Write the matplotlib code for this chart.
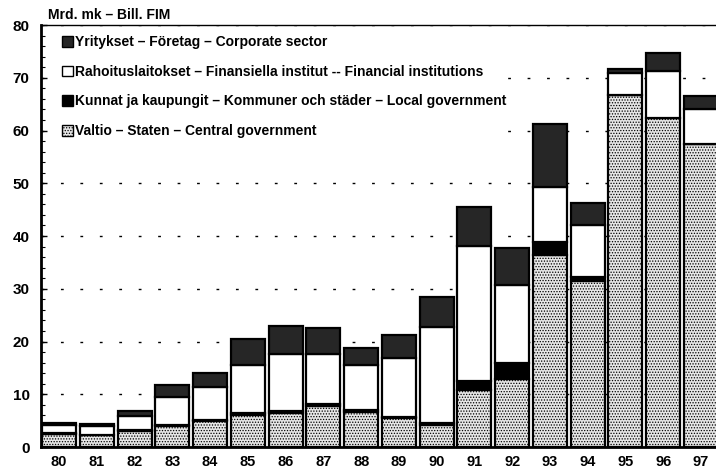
import numpy as np
import matplotlib
matplotlib.use('Agg')
import matplotlib.pyplot as plt
from matplotlib.patches import Patch

plt.rcParams['font.family'] = ['Liberation Sans', 'DejaVu Sans']
plt.rcParams['hatch.linewidth'] = 0.6

years = ['80', '81', '82', '83', '84', '85', '86', '87', '88',
         '89', '90', '91', '92', '93', '94', '95', '96', '97']
# Mrd. mk
valtio = [2.5, 2.2, 3.0, 4.0, 5.0, 6.0, 6.5, 7.8, 6.7,
          5.5, 4.2, 10.9, 12.8, 36.4, 31.5, 66.7, 62.3, 57.4]
kunnat = [0.1, 0.1, 0.3, 0.2, 0.2, 0.4, 0.4, 0.3, 0.3,
          0.2, 0.3, 1.6, 3.1, 2.5, 0.8, 0.0, 0.1, 0.1]
rahoitus = [1.5, 1.6, 2.5, 5.3, 6.1, 9.1, 10.7, 9.6, 8.5,
            11.2, 18.3, 25.6, 14.8, 10.3, 9.7, 4.2, 8.8, 6.6]
yritykset = [0.5, 0.4, 1.1, 2.2, 2.7, 5.0, 5.3, 4.9, 3.3,
             4.4, 5.7, 7.4, 7.0, 12.0, 4.3, 0.8, 3.4, 2.4]

labels = ['Yritykset – Företag – Corporate sector',
          'Rahoituslaitokset – Finansiella institut -- Financial institutions',
          'Kunnat ja kaupungit – Kommuner och städer – Local government',
          'Valtio – Staten – Central government']

fig = plt.figure(figsize=(7.16, 4.70), dpi=100)
ax = fig.add_axes([0.0568, 0.0489, 0.9432, 0.8979])

x = np.arange(len(years))
w = 0.9
bottom = np.zeros(len(years))
series = [
    (valtio, '#e6e6e6', '......'),
    (kunnat, 'black', None),
    (rahoitus, 'white', None),
    (yritykset, '#262626', None),
]
for vals, fc, hatch in series:
    ax.bar(x, vals, w, bottom=bottom, facecolor=fc, edgecolor='black',
           linewidth=1.6, hatch=hatch, zorder=2)
    bottom = bottom + np.array(vals)

ax.set_xlim(-0.49, 17.4)
ax.set_ylim(0, 80)
ax.set_xticks(x)
ax.set_xticklabels(years, fontsize=10.5, fontweight='bold')
ax.set_yticks(range(0, 81, 10))
ax.set_yticklabels([str(v) for v in range(0, 81, 10)], fontsize=11, fontweight='bold')
ax.set_yticks(range(0, 81, 2), minor=True)
ax.tick_params(axis='x', length=0, pad=6)
ax.tick_params(axis='y', which='major', direction='in', length=4, width=1, pad=8)
ax.tick_params(axis='y', which='minor', direction='in', length=3, width=0.8)

ax.yaxis.grid(True, linestyle=(0, (2, 12)), color='black', linewidth=1)
ax.set_axisbelow(True)

ax.spines['right'].set_visible(False)
ax.spines['left'].set_linewidth(2)
ax.spines['bottom'].set_linewidth(2)
ax.spines['top'].set_linewidth(1)

handles = [Patch(facecolor='#262626', edgecolor='black'),
           Patch(facecolor='white', edgecolor='black'),
           Patch(facecolor='black', edgecolor='black'),
           Patch(facecolor='#e6e6e6', edgecolor='black', hatch='......')]
leg = ax.legend(handles, labels, loc='upper left', bbox_to_anchor=(0.019, 0.996),
                prop={'size': 10, 'weight': 'bold'}, frameon=True, framealpha=1,
                facecolor='white', edgecolor='none', fancybox=False,
                handlelength=0.8, handleheight=0.8, handletextpad=0.15,
                labelspacing=1.13, borderpad=0.1)

fig.text(48 / 716, 1 - 15 / 470, 'Mrd. mk – Bill. FIM', va='center',
         fontsize=10, fontweight='bold')

fig.savefig('out.png', dpi=100)
